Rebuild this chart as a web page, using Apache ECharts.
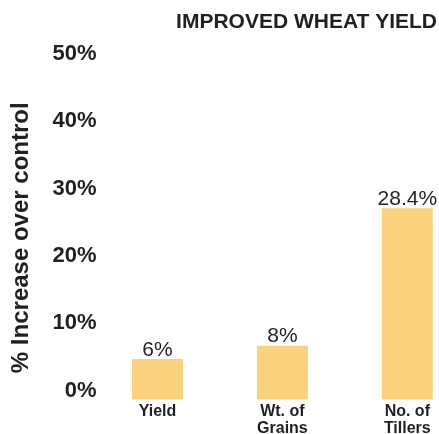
<!DOCTYPE html>
<html>
<head>
<meta charset="utf-8">
<script src="https://cdn.jsdelivr.net/npm/echarts@6/dist/echarts.min.js"></script>
<style>
html,body{margin:0;padding:0;background:#fff;}
#chart{width:439px;height:434px;}
</style>
</head>
<body>
<div id="chart"></div>
<script>
var categories = ['Yield', 'Wt. of\nGrains', 'No. of\nTillers'];
var values = [6, 8, 28.4];
var yTicks = [0, 10, 20, 30, 40, 50];
var titleText = 'IMPROVED WHEAT YIELD';
var yAxisTitle = '% Increase over control';

var textColor = '#231f20';
var font = 'Liberation Sans, Arial, Helvetica, sans-serif';
var chart = echarts.init(document.getElementById('chart'), null, {renderer: 'canvas'});
chart.setOption({
  backgroundColor: '#ffffff',
  animation: false,
  title: {
    text: titleText,
    right: 2,
    top: 12,
    padding: 0,
    textStyle: {fontFamily: font, fontSize: 21, fontWeight: 'bold', color: textColor}
  },
  grid: {left: 157.5, right: 31.7, top: 63, bottom: 34.5, containLabel: false, outerBoundsMode: 'none'},
  xAxis: {
    type: 'category',
    data: categories,
    boundaryGap: false,
    axisLine: {show: false},
    axisTick: {show: false},
    splitLine: {show: false},
    axisLabel: {
      interval: 0,
      margin: 4,
      fontFamily: font,
      fontSize: 16,
      fontWeight: 'bold',
      lineHeight: 17,
      color: textColor
    }
  },
  yAxis: {
    type: 'value',
    min: yTicks[0],
    max: yTicks[yTicks.length - 1],
    interval: yTicks[1] - yTicks[0],
    name: yAxisTitle,
    nameLocation: 'middle',
    nameRotate: 90,
    nameGap: 124,
    nameTextStyle: {fontFamily: font, fontSize: 24, fontWeight: 'bold', color: textColor, padding: [0, 13, 0, 0]},
    axisLine: {show: false},
    axisTick: {show: false},
    splitLine: {show: false},
    axisLabel: {
      margin: 61,
      fontFamily: font,
      fontSize: 22,
      fontWeight: 'bold',
      color: textColor,
      verticalAlign: 'bottom',
      lineHeight: 18,
      formatter: function (v) { return v + '%'; }
    }
  },
  series: [{
    type: 'bar',
    data: values,
    barWidth: 51,
    clip: false,
    itemStyle: {color: '#f9d17f'},
    label: {
      show: true,
      position: 'top',
      distance: 0,
      lineHeight: 18,
      fontFamily: font,
      fontSize: 21,
      color: textColor,
      formatter: function (p) { return p.value + '%'; }
    }
  }]
});
</script>
</body>
</html>
